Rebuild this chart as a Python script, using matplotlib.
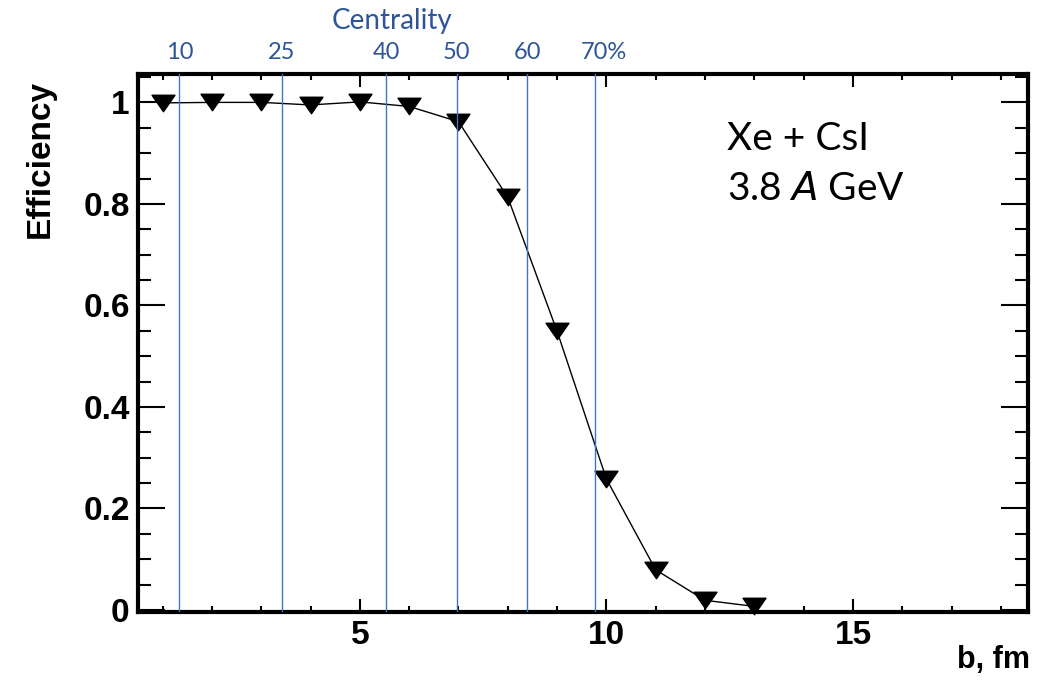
"""Trigger efficiency vs impact parameter, Xe + CsI at 3.8 A GeV."""

import matplotlib

matplotlib.use("Agg")

import matplotlib.pyplot as plt  # noqa: E402
import matplotlib.transforms as mtransforms  # noqa: E402
from matplotlib.path import Path  # noqa: E402
from matplotlib.ticker import MultipleLocator  # noqa: E402

# Efficiency points
b_fm = [1, 2, 3, 4, 5, 6, 7, 8, 9, 10, 11, 12, 13]
efficiency = [0.999, 1.0, 1.0, 0.995, 1.001, 0.992, 0.962, 0.813, 0.549,
              0.258, 0.079, 0.019, 0.007]

# Centrality boundaries (b, fm) and their labels
centrality_b = [1.34, 3.42, 5.53, 6.96, 8.39, 9.77]
centrality_labels = ["10", "25", "40", "50", "60", "70%"]

LINE_BLUE = "#4472C4"
TEXT_BLUE = "#2F5597"
BOLD_FONT = "Liberation Sans"
TEXT_FONT = "Lato"

# ROOT-style downward triangle, wider than tall
TRIANGLE = Path([(-1, 0.72), (1, 0.72), (0, -0.72), (-1, 0.72)],
                [Path.MOVETO, Path.LINETO, Path.LINETO, Path.CLOSEPOLY])

fig = plt.figure(figsize=(10.51, 6.83), dpi=100)
ax = fig.add_axes([0.1313, 0.104, 0.8468, 0.7877])

ax.plot(b_fm, efficiency, color="black", linewidth=1.0, zorder=2)
ax.plot(b_fm, efficiency, linestyle="none", marker=TRIANGLE,
        markersize=16.5, color="black", clip_on=False, zorder=3)

for xb in centrality_b:
    ax.axvline(xb, color=LINE_BLUE, linewidth=1.0, zorder=4)

trans = mtransforms.blended_transform_factory(ax.transData, ax.transAxes)
for xb, lab in zip(centrality_b, centrality_labels):
    dx = 6 if lab.endswith("%") else 0
    ax.annotate(lab, xy=(xb, 1.039), xycoords=trans, xytext=(dx, 0),
                textcoords="offset points", ha="center", va="center",
                fontsize=17, color=TEXT_BLUE, family=TEXT_FONT,
                annotation_clip=False)
fig.text(392 / 1051, 1 - 21 / 683, "Centrality", ha="center", va="center",
         fontsize=20, color=TEXT_BLUE, family=TEXT_FONT)

ax.set_xlim(0.5, 18.55)
ax.set_ylim(-0.004, 1.056)

ax.xaxis.set_major_locator(MultipleLocator(5))
ax.xaxis.set_minor_locator(MultipleLocator(1))
ax.yaxis.set_minor_locator(MultipleLocator(0.05))
ax.set_yticks([0, 0.2, 0.4, 0.6, 0.8, 1.0], ["0", "0.2", "0.4", "0.6", "0.8", "1"])

ax.tick_params(axis="both", which="both", direction="in", top=True,
               right=True, width=1.5, color="black")
ax.tick_params(axis="y", which="major", length=19.5, pad=6)
ax.tick_params(axis="y", which="minor", length=9.5)
ax.tick_params(axis="x", which="major", length=9.5, pad=6)
ax.tick_params(axis="x", which="minor", length=4.5)

for lab in ax.get_xticklabels() + ax.get_yticklabels():
    lab.set_fontfamily(BOLD_FONT)
    lab.set_fontweight("bold")
    lab.set_fontsize(24)

for spine in ax.spines.values():
    spine.set_linewidth(3.0)

fig.text(40 / 1051, 1 - 80 / 683, "Efficiency", rotation=90, ha="center",
         va="top", fontsize=24, fontweight="bold", family=BOLD_FONT)
fig.text(1030 / 1051, 1 - 660 / 683, "b, fm", ha="right", va="center",
         fontsize=22, fontweight="bold", family=BOLD_FONT)

ax.text(0.662, 0.88, "Xe + CsI", transform=ax.transAxes, ha="left",
        va="center", fontsize=28, family=TEXT_FONT)
ax.text(0.662, 0.787, "3.8 $\\mathit{A}$ GeV", transform=ax.transAxes,
        ha="left", va="center", fontsize=28, family=TEXT_FONT)

fig.savefig("out.png", dpi=100)
plt.close(fig)
